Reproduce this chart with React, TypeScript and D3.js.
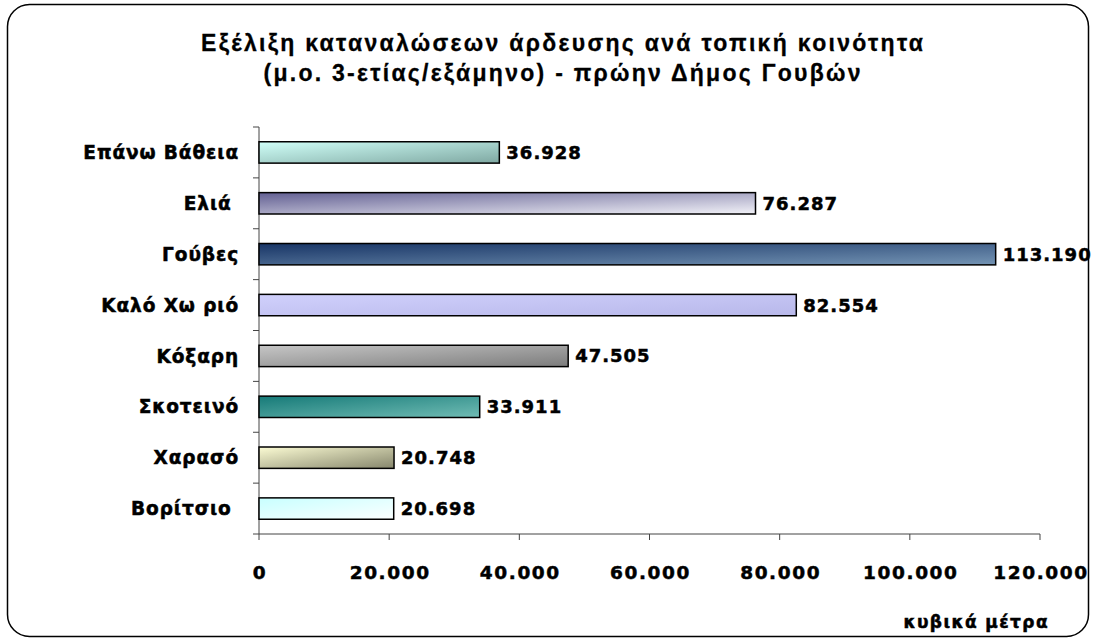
import { useRef, useEffect } from 'react';
import * as d3 from 'd3';

const categories = ['Επάνω Βάθεια', 'Ελιά ', 'Γούβες', 'Καλό Χω ριό', 'Κόξαρη', 'Σκοτεινό', 'Χαρασό', 'Βορίτσιο '];
const values = [36928, 76287, 113190, 82554, 47505, 33911, 20748, 20698];
const valueLabels = ['36.928', '76.287', '113.190', '82.554', '47.505', '33.911', '20.748', '20.698'];
const xTicks = [0, 20000, 40000, 60000, 80000, 100000, 120000];
const xTickLabels = ['0', '20.000', '40.000', '60.000', '80.000', '100.000', '120.000'];
const titleLines = ['Εξέλιξη καταναλώσεων άρδευσης ανά τοπική κοινότητα', '(μ.ο. 3-ετίας/εξάμηνο) - πρώην Δήμος Γουβών'];
const axisTitle = 'κυβικά μέτρα';

// gradient stops [start, end] per bar
const barGradients: [string, string][] = [
  ['#d0fff8', '#7fa8a2'],
  ['#625f92', '#f2f2f8'],
  ['#183566', '#7494b4'],
  ['#d0d0fc', '#b8b8ea'],
  ['#c6c6c6', '#7c7c7c'],
  ['#167a78', '#70bcb4'],
  ['#fcfcd4', '#86866c'],
  ['#c8ffff', '#fbffff'],
];

const W = 1094;
const H = 641;
const verdana = 'DejaVu Sans, Verdana, sans-serif';

export default function App() {
  const svgRef = useRef<SVGSVGElement>(null);

  useEffect(() => {
    const svg = d3.select(svgRef.current);
    svg.selectAll('*').remove();

    const left = 259;
    const right = 1040;
    const top = 127;
    const bottom = 534;

    const x = d3.scaleLinear().domain([0, 120000]).range([left, right]);
    const y = d3.scaleBand<string>().domain(categories).range([top, bottom]).paddingInner(0.58).paddingOuter(0.29);

    // frame
    svg.append('rect')
      .attr('x', 7.5).attr('y', 4.5).attr('width', 1081).attr('height', 632)
      .attr('rx', 22).attr('ry', 22)
      .attr('fill', '#fff').attr('stroke', '#000').attr('stroke-width', 1.5);

    // title
    const titleWidths = [722, 597];
    titleLines.forEach((t, i) => {
      svg.append('text')
        .attr('x', 562).attr('y', 51 + i * 30)
        .attr('text-anchor', 'middle')
        .attr('font-family', 'Liberation Sans, Arial, sans-serif')
        .attr('font-weight', 'bold').attr('font-size', 23)
        .attr('textLength', titleWidths[i])
        .attr('lengthAdjust', 'spacing')
        .attr('stroke', '#000').attr('stroke-width', 0.3)
        .text(t);
    });

    const defs = svg.append('defs');
    barGradients.forEach((g, i) => {
      const lg = defs.append('linearGradient').attr('id', `grad${i}`)
        .attr('x1', 0).attr('y1', 0).attr('x2', 1).attr('y2', 1);
      lg.append('stop').attr('offset', '0%').attr('stop-color', g[0]);
      lg.append('stop').attr('offset', '100%').attr('stop-color', g[1]);
    });

    // axes
    const axisColor = '#444';
    svg.append('line').attr('x1', left).attr('x2', left).attr('y1', top).attr('y2', bottom)
      .attr('stroke', axisColor).attr('stroke-width', 1);
    svg.append('line').attr('x1', left).attr('x2', right).attr('y1', bottom).attr('y2', bottom)
      .attr('stroke', axisColor).attr('stroke-width', 1);

    // y ticks at band boundaries
    d3.range(categories.length + 1).forEach(i => {
      const yy = top + (i * (bottom - top)) / categories.length;
      svg.append('line').attr('x1', left - 6).attr('x2', left).attr('y1', yy).attr('y2', yy)
        .attr('stroke', axisColor);
    });

    // x ticks
    xTicks.forEach((t, i) => {
      svg.append('line').attr('x1', x(t)).attr('x2', x(t)).attr('y1', bottom).attr('y2', bottom + 6)
        .attr('stroke', axisColor);
      svg.append('text')
        .attr('x', x(t) + 1).attr('y', 579)
        .attr('text-anchor', 'middle')
        .attr('font-family', verdana)
        .attr('font-weight', 'bold').attr('font-size', 18.5)
        .attr('letter-spacing', 1.6)
        .attr('stroke', '#000').attr('stroke-width', 0.5)
        .text(xTickLabels[i]);
    });

    // bars
    categories.forEach((c, i) => {
      const yy = y(c)!;
      svg.append('rect')
        .attr('x', x(0)).attr('y', yy)
        .attr('width', x(values[i]) - x(0)).attr('height', y.bandwidth())
        .attr('fill', `url(#grad${i})`)
        .attr('stroke', '#000').attr('stroke-width', 1.5);

      svg.append('text')
        .attr('x', x(values[i]) + 7).attr('y', yy + y.bandwidth() / 2)
        .attr('dy', '0.36em')
        .attr('font-family', verdana)
        .attr('font-weight', 'bold').attr('font-size', 18)
        .attr('letter-spacing', 1.0)
        .attr('stroke', '#000').attr('stroke-width', 0.5)
        .text(valueLabels[i]);

      svg.append('text')
        .attr('x', 239).attr('y', yy + y.bandwidth() / 2)
        .attr('dy', '0.36em')
        .attr('text-anchor', 'end')
        .style('white-space', 'pre')
        .attr('font-family', verdana)
        .attr('font-weight', 'bold').attr('font-size', 18.5)
        .attr('letter-spacing', 0.9)
        .attr('stroke', '#000').attr('stroke-width', 0.5)
        .text(c);
    });

    svg.append('text')
      .attr('x', 1049).attr('y', 628)
      .attr('text-anchor', 'end')
      .attr('font-family', verdana)
      .attr('font-weight', 'bold').attr('font-size', 17)
      .attr('letter-spacing', 1.4)
      .attr('stroke', '#000').attr('stroke-width', 0.5)
      .text(axisTitle);
  }, []);

  return (
    <svg ref={svgRef} width={W} height={H}
      style={{ display: 'block', position: 'absolute', left: 0, top: 0 }} />
  );
}
